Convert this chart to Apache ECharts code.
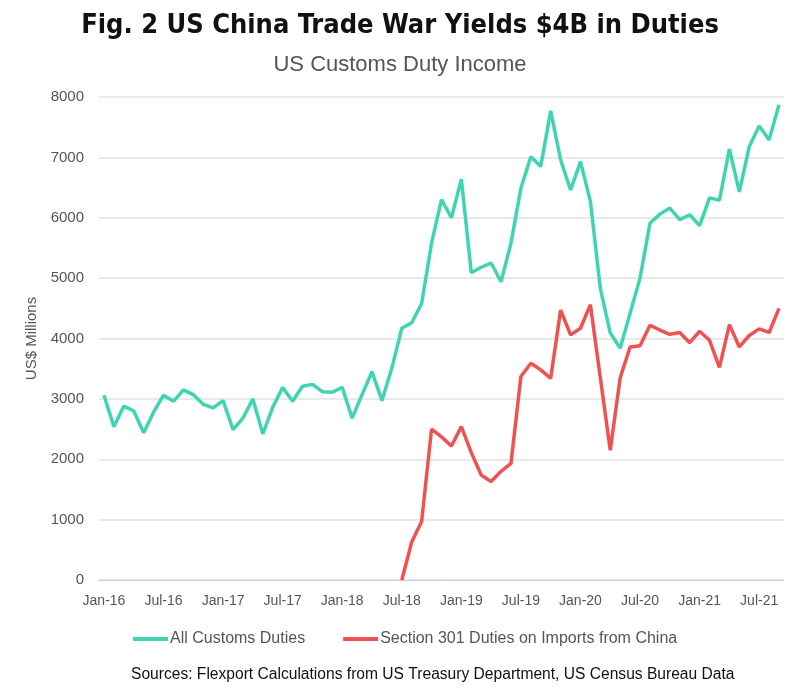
<!DOCTYPE html>
<html>
<head>
    <meta charset="utf-8">
    <title>US Customs Duty Income</title>
    <script src="https://cdn.jsdelivr.net/npm/echarts@6/dist/echarts.min.js"></script>
</head>
<body style="margin:0">
    <div id="main" style="width: 800px;height:692px;"></div>
    <script type="text/javascript">
        // month labels Jan-16 .. Sep-21
        var monthNames = ['Jan', 'Feb', 'Mar', 'Apr', 'May', 'Jun', 'Jul', 'Aug', 'Sep', 'Oct', 'Nov', 'Dec'];
        var years = ['16', '17', '18', '19', '20', '21'];
        var months = [];
        years.forEach(function (y) {
            monthNames.forEach(function (m) { months.push(m + '-' + y); });
        });
        months = months.slice(0, 69);

        // All customs duties, US$ millions
        var allDuties = [
            3060, 2540, 2880, 2800, 2440, 2780, 3060, 2960, 3150, 3070, 2910, 2850,
            2970, 2490, 2680, 3000, 2420, 2860, 3190, 2960, 3210, 3240, 3120, 3110,
            3190, 2680, 3070, 3450, 2970, 3510, 4170, 4260, 4580, 5580, 6300, 6000,
            6640, 5090, 5180, 5250, 4940, 5580, 6490, 7010, 6850, 7770, 6960, 6460,
            6930, 6270, 4830, 4090, 3840, 4420, 5000, 5910, 6060, 6160, 5970, 6050,
            5870, 6330, 6290, 7140, 6430, 7180, 7520, 7290, 7870
        ];

        // Section 301 duties, starting Jul-18
        var section301 = [
            null, null, null, null, null, null, null, null, null, null, null, null,
            null, null, null, null, null, null, null, null, null, null, null, null,
            null, null, null, null, null, null, 0, 630, 970, 2500, 2370, 2220,
            2540, 2110, 1740, 1630, 1800, 1930, 3370, 3590, 3480, 3340, 4470, 4060,
            4170, 4560, 3350, 2150, 3350, 3860, 3880, 4220, 4140, 4070, 4100, 3930,
            4120, 3970, 3520, 4230, 3860, 4050, 4160, 4100, 4500
        ];

        var myChart = echarts.init(document.getElementById('main'));
        var font = "'Liberation Sans', Arial, sans-serif";

        var option = {
            animation: false,
            backgroundColor: '#fff',
            title: [
                {
                    text: 'Fig. 2 US China Trade War Yields $4B in Duties',
                    left: 'center',
                    top: 7,
                    textStyle: {
                        fontFamily: "'Liberation Sans Narrow', 'DejaVu Sans Condensed', Roboto, sans-serif",
                        fontWeight: 'bold',
                        fontSize: 27,
                        color: '#111'
                    }
                },
                {
                    text: 'US Customs Duty Income',
                    left: 'center',
                    top: 49,
                    textStyle: { fontFamily: font, fontWeight: 'normal', fontSize: 22, color: '#555' }
                },
                {
                    text: 'Sources: Flexport Calculations from US Treasury Department, US Census Bureau Data',
                    left: 126,
                    top: 662,
                    textStyle: { fontFamily: font, fontWeight: 'normal', fontSize: 15.6, color: '#111' }
                }
            ],
            legend: {
                left: 128,
                top: 626,
                icon: 'rect',
                itemWidth: 35,
                itemHeight: 4,
                itemGap: 38,
                textStyle: { fontFamily: font, fontSize: 16, color: '#555', padding: [0, 0, 0, -3] },
                data: ['All Customs Duties', 'Section 301 Duties on Imports from China']
            },
            grid: { left: 99, right: 16, top: 97, bottom: 112 },
            xAxis: {
                type: 'category',
                data: months,
                boundaryGap: true,
                axisLine: { lineStyle: { color: '#ccc' } },
                axisTick: { interval: 5, length: 5, lineStyle: { color: '#ccc' } },
                axisLabel: { interval: 5, margin: 14, fontFamily: font, fontSize: 14, color: '#555' }
            },
            yAxis: {
                type: 'value',
                min: 0,
                max: 8000,
                interval: 1000,
                name: 'US$ Millions',
                nameLocation: 'middle',
                nameGap: 60,
                nameTextStyle: { fontFamily: font, fontSize: 15, color: '#555' },
                axisLabel: {
                    margin: 15, fontFamily: font, fontSize: 15, color: '#555',
                    formatter: function (v) { return String(v); }
                },
                splitLine: { lineStyle: { color: '#e2e2e2', width: 1.5 } }
            },
            series: [
                {
                    name: 'All Customs Duties',
                    type: 'line',
                    data: allDuties,
                    showSymbol: false,
                    color: '#40d4b2',
                    lineStyle: { width: 3.5 }
                },
                {
                    name: 'Section 301 Duties on Imports from China',
                    type: 'line',
                    data: section301,
                    showSymbol: false,
                    color: '#ee5253',
                    lineStyle: { width: 3.5 }
                }
            ]
        };

        myChart.setOption(option);
    </script>
</body>
</html>
